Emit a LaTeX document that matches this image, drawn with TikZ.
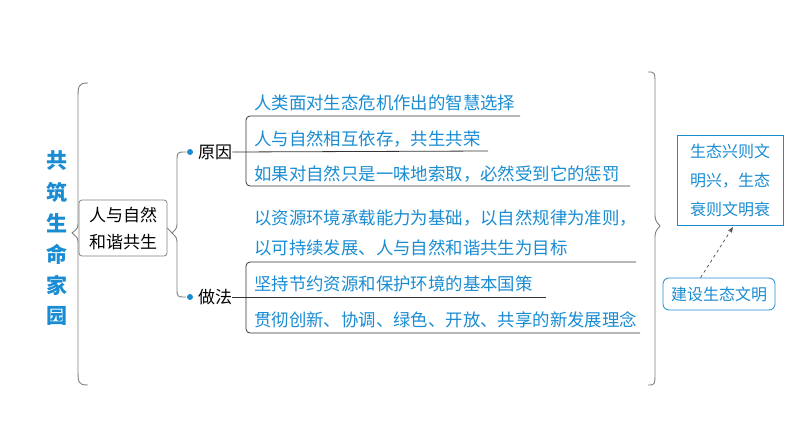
\documentclass[tikz,border=0pt]{standalone}
\usepackage{fontspec}
\setmainfont{Noto Sans CJK SC}
\usetikzlibrary{arrows.meta}
\definecolor{tblue}{RGB}{25,140,210}
\tikzset{
  bl/.style={text=tblue,font=\fontsize{17.4}{20}\selectfont,anchor=west,inner sep=0pt},
  bk/.style={text=black,font=\fontsize{17}{20}\selectfont,inner sep=0pt},
  gline/.style={draw=black!80,line width=0.8pt},
  brace/.style={draw=gray,line width=0.9pt},
}
\begin{document}
\begin{tikzpicture}[x=1pt,y=-1pt]
\useasboundingbox (0,0) rectangle (794,447);
% title
\foreach \c [count=\i] in {共,筑,生,命,家,园}
  \node[text=tblue,font=\fontsize{21}{24}\selectfont\bfseries,inner sep=0pt] (t\i) at (57,130+31*\i) {\c};
% left brace
\draw[brace] (88,83) .. controls (78,83) and (78,86) .. (78,100) -- (78,222) .. controls (78,228) .. (72,233)
  .. controls (78,238) .. (78,244) -- (78,368) .. controls (78,383) and (78,385) .. (88,385);
% central box
\node[draw=gray,rounded corners=3pt,line width=0.8pt,minimum width=88,minimum height=56,align=center,
  font=\fontsize{17}{27}\selectfont,inner sep=2pt] (c) at (123,228) {人与自然\\和谐共生};
% second brace
\draw[brace] (c.east) -- (172,233) .. controls (177,228) .. (177,222) -- (177,162) .. controls (177,152) .. (186,152);
\draw[brace] (172,233) .. controls (177,238) .. (177,244) -- (177,288) .. controls (177,297) .. (186,297);
\fill[tblue] (190,152) circle (3);
\fill[tblue] (190,297) circle (3);
\node[bk,anchor=west] (y) at (198,152) {原因};
\node[bk,anchor=west] (z) at (198,297) {做法};
% group 1
\draw[gline] (y.east) -- (488,151);
\draw[gline,rounded corners=4pt] (520,116) -- (246,116) -- (246,186) -- (630,186);
\node[bl] (a1) at (254,103) {人类面对生态危机作出的智慧选择};
\node[bl] (a2) at (254,139) {人与自然相互依存，共生共荣};
\node[bl] (a3) at (254,174) {如果对自然只是一味地索取，必然受到它的惩罚};
% group 2
\node[bl] (b1) at (254,218) {以资源环境承载能力为基础，以自然规律为准则，};
\node[bl] (b2) at (254,248) {以可持续发展、人与自然和谐共生为目标};
\draw[gline,rounded corners=4pt] (636,262) -- (246,262) -- (246,333) -- (640,333);
\draw[gline] (z.east) -- (546,297);
\node[bl] (b3) at (254,284) {坚持节约资源和保护环境的基本国策};
\node[bl] (b4) at (254,320) {贯彻创新、协调、绿色、开放、共享的新发展理念};
% right brace
\draw[brace] (648,72) .. controls (655,72) .. (655,85) -- (655,212) .. controls (655,220) .. (660,226)
  .. controls (655,232) .. (655,240) -- (655,372) .. controls (655,385) .. (648,385);
% right boxes
\node[draw=tblue,line width=0.8pt,minimum width=106,minimum height=90,align=center,text=tblue,
  font=\fontsize{16}{29}\selectfont,inner sep=2pt] (r1) at (730,180) {生态兴则文\\明兴，生态\\衰则文明衰};
\node[draw=tblue,rounded corners=6pt,line width=0.8pt,minimum width=112,minimum height=32,text=tblue,
  font=\fontsize{16}{20}\selectfont,inner sep=2pt] (r2) at (719,294) {建设生态文明};
\draw[dashed,gray!60!black,line width=0.7pt,-{Stealth[length=6pt]}] (r2.north west) ++(38,0) -- (733,227);
\end{tikzpicture}
\end{document}
